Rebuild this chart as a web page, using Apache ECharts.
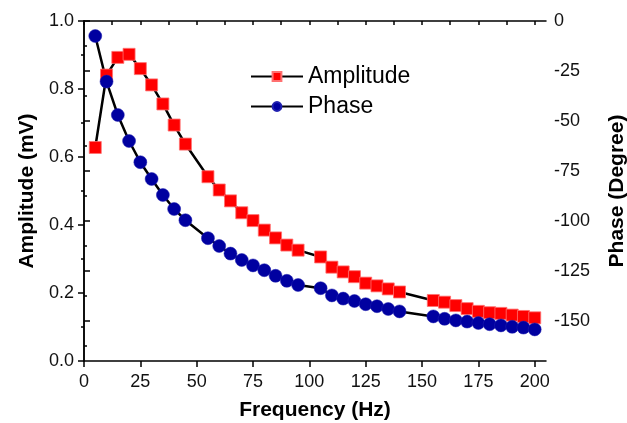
<!DOCTYPE html>
<html>
<head>
<meta charset="utf-8">
<script src="https://cdn.jsdelivr.net/npm/echarts@6/dist/echarts.min.js"></script>
<style>html,body{margin:0;padding:0;background:#fff}#c{width:627px;height:423px}</style>
</head>
<body>
<div id="c"></div>
<script>
var frequency = [5,10,15,20,25,30,35,40,45,55,60,65,70,75,80,85,90,95,105,110,115,120,125,130,135,140,155,160,165,170,175,180,185,190,195,200];
var amplitude = [0.628,0.841,0.893,0.902,0.86,0.812,0.756,0.694,0.638,0.542,0.503,0.471,0.436,0.413,0.385,0.362,0.341,0.326,0.306,0.276,0.262,0.248,0.229,0.221,0.212,0.203,0.178,0.173,0.163,0.154,0.146,0.142,0.140,0.135,0.131,0.127];
var phase = [-7.5,-30.3,-47,-60,-70.6,-79,-87,-94,-99.6,-108.6,-112.5,-116.3,-119.5,-122.2,-124.6,-127.4,-129.9,-132,-133.6,-137.2,-138.8,-140,-141.6,-142.6,-144,-145.2,-147.7,-148.9,-149.7,-150.3,-151,-151.6,-152.2,-152.9,-153.3,-154.2];
var xMajor = [0,25,50,75,100,125,150,175,200];
var xMinor = [12.5,37.5,62.5,87.5,112.5,137.5,162.5,187.5];
var phaseMajor = [0,-25,-50,-75,-100,-125,-150];
var phaseMinor = [-12.5,-37.5,-62.5,-87.5,-112.5,-137.5,-162.5];

var FONT = 'Liberation Sans, Arial, sans-serif';
var chart = echarts.init(document.getElementById('c'), null, {renderer: 'canvas'});
function pairs(xs, ys){ return xs.map(function(x,i){ return [x, ys[i]]; }); }
var lineAx = {show: true, lineStyle: {color: '#000', width: 1.5}};
var tickFont = {fontFamily: FONT, fontSize: 18, color: '#111'};
var nameFont = {fontFamily: FONT, fontSize: 21, fontWeight: 'bold', color: '#000'};
chart.setOption({
  animation: false,
  backgroundColor: '#fff',
  grid: {left: 84, right: 81, top: 21, bottom: 62, containLabel: false, outerBoundsMode: 'none'},
  legend: {
    orient: 'vertical', left: 245, top: 60, itemWidth: 52, itemHeight: 11, itemGap: 7,
    textStyle: {fontFamily: FONT, fontSize: 23, lineHeight: 23, color: '#000'},
    data: ['Amplitude', 'Phase']
  },
  xAxis: [
    {type: 'value', position: 'bottom', min: 0, max: 205,
     axisLine: lineAx,
     axisTick: {show: true, customValues: xMajor, length: 6, inside: false, lineStyle: {color: '#000', width: 1.5}},
     axisLabel: Object.assign({customValues: xMajor, margin: 12}, tickFont),
     splitLine: {show: false},
     name: 'Frequency (Hz)', nameLocation: 'middle', nameGap: 39,
     nameTextStyle: nameFont},
    {type: 'value', position: 'bottom', min: 0, max: 205, gridIndex: 0,
     axisLine: {show: false},
     axisTick: {show: true, customValues: xMinor, length: 3, lineStyle: {color: '#000', width: 1.5}},
     axisLabel: {show: false}, splitLine: {show: false}},
    {type: 'value', position: 'top', min: 0, max: 205, gridIndex: 0,
     axisLine: lineAx,
     axisTick: {show: true, customValues: xMajor.concat(xMinor), length: 4, inside: true, lineStyle: {color: '#000', width: 1.5}},
     axisLabel: {show: false}, splitLine: {show: false}}
  ],
  yAxis: [
    {type: 'value', position: 'left', min: 0, max: 1, interval: 0.2,
     axisLine: lineAx,
     axisTick: {show: true, length: 6, lineStyle: {color: '#000', width: 1.5}},
     minorTick: {show: true, splitNumber: 2, length: 3, lineStyle: {color: '#000', width: 1.5}},
     axisLabel: Object.assign({margin: 10, formatter: function(v){ return v.toFixed(1); }}, tickFont),
     splitLine: {show: false}, minorSplitLine: {show: false},
     name: 'Amplitude (mV)', nameLocation: 'middle', nameGap: 36,
     nameTextStyle: nameFont},
    {type: 'value', position: 'right', min: -170, max: 0,
     axisLine: lineAx,
     axisTick: {show: true, customValues: phaseMajor, length: 6, lineStyle: {color: '#000', width: 1.5}},
     axisLabel: Object.assign({customValues: phaseMajor, margin: 8}, tickFont),
     splitLine: {show: false},
     name: 'Phase (Degree)', nameLocation: 'middle', nameGap: 61,
     nameTextStyle: nameFont},
    {type: 'value', position: 'right', min: -170, max: 0,
     axisLine: {show: false},
     axisTick: {show: true, customValues: phaseMinor, length: 3, lineStyle: {color: '#000', width: 1.5}},
     axisLabel: {show: false}, splitLine: {show: false}}
  ],
  series: [
    {name: 'Amplitude', type: 'line', xAxisIndex: 0, yAxisIndex: 0,
     data: pairs(frequency, amplitude),
     symbol: 'rect', symbolSize: 12, showAllSymbol: true,
     lineStyle: {color: '#000', width: 2.5},
     itemStyle: {color: '#ff0000', borderColor: '#ff7070', borderWidth: 0.8}},
    {name: 'Phase', type: 'line', xAxisIndex: 0, yAxisIndex: 1,
     data: pairs(frequency, phase),
     symbol: 'circle', symbolSize: 13, showAllSymbol: true,
     lineStyle: {color: '#000', width: 2.5},
     itemStyle: {color: '#0000a0', borderColor: '#2020b0', borderWidth: 0.5}}
  ]
});
</script>
</body>
</html>
